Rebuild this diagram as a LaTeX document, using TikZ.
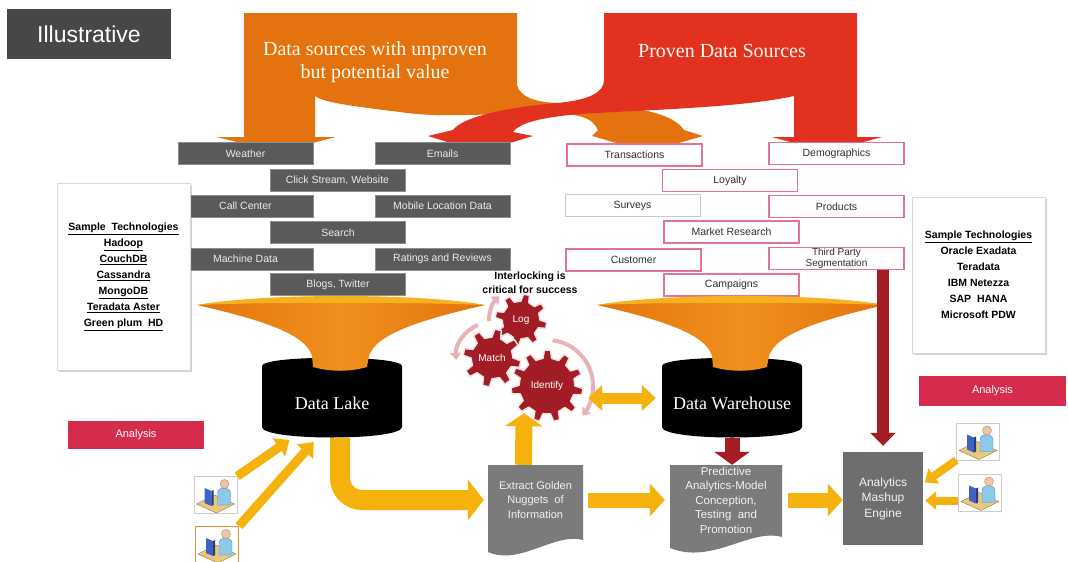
\documentclass[tikz,border=0pt]{standalone}
\usepackage{fontspec}
\setmainfont{Liberation Serif}
\setsansfont{Liberation Sans}
\usepackage{xcolor}
\usepackage{tikz}
\usetikzlibrary{arrows.meta,shadows}
\definecolor{ill}{HTML}{474747}
\definecolor{srcfill}{HTML}{5A5A5A}
\definecolor{srcedge}{HTML}{8E8E8E}
\definecolor{pinkedge}{HTML}{E2748F}
\definecolor{paleedge}{HTML}{C9C9C9}
\definecolor{ink}{HTML}{303030}
\definecolor{bigorange}{HTML}{E4720E}
\definecolor{bigred}{HTML}{E2321F}
\definecolor{amber}{HTML}{F6B20C}
\definecolor{deepred}{HTML}{A51D23}
\definecolor{cogred}{HTML}{A11C24}
\definecolor{cogrim}{HTML}{F3E3E3}
\definecolor{arcpink}{HTML}{E9B2B7}
\definecolor{docgray}{HTML}{7B7B7B}
\definecolor{mashgray}{HTML}{6E6E6E}
\definecolor{crimson}{HTML}{D52B4C}
\definecolor{lip}{HTML}{F6B21E}
\definecolor{funnel}{HTML}{E3740C}
\definecolor{funnelhi}{HTML}{F0901E}
\definecolor{desk}{HTML}{E9C77C}
\definecolor{screen}{HTML}{3D64C4}
\definecolor{shirt}{HTML}{8DC9EA}
\definecolor{skin}{HTML}{F2C6A2}
\tikzset{
  illus/.style={fill=ill,text=white,font=\sffamily\fontsize{23}{26}\selectfont,minimum width=164pt,minimum height=50pt},
  bigtext/.style={text=white!95!yellow,font=\fontsize{20}{23}\selectfont,align=center,inner sep=0pt},
  src/.style={draw=srcedge,fill=srcfill,text=white!92!black,font=\sffamily\fontsize{10.5}{11}\selectfont,align=center,minimum width=135pt,minimum height=22pt,inner sep=1pt},
  known/.style={src,draw=pinkedge,fill=white,text=ink,line width=1.2pt},
  techbox/.style={draw=black!15,fill=white,font=\sffamily\bfseries\fontsize{10.5}{16}\selectfont,align=center,drop shadow={opacity=.35,shadow xshift=1.5pt,shadow yshift=-1.5pt}},
  flag/.style={fill=crimson,text=white,font=\sffamily\fontsize{11}{13}\selectfont},
  tank/.style={text=white,font=\fontsize{18}{22}\selectfont,minimum width=140pt,minimum height=70pt},
  doc/.style={text=white!95!black,font=\sffamily\fontsize{11}{14.5}\selectfont,align=center,minimum height=70pt,inner sep=0pt},
  mash/.style={fill=mashgray,text=white!95!black,font=\sffamily\fontsize{12}{15.5}\selectfont,align=center,minimum width=80pt,minimum height=93pt},
  cogtext/.style={circle,text=white,font=\sffamily\fontsize{10}{12}\selectfont,inner sep=0pt},
  userbox/.style={draw=black!20,fill=white,minimum width=43pt,minimum height=37pt,inner sep=0pt},
  spin/.style={arcpink,line width=4pt,-{Triangle[length=7pt,width=11pt]}},
  thinarr/.style={amber,line width=9pt,-{Triangle[length=13pt,width=21pt]}},
  flatarr/.style={amber,line width=15pt,-{Triangle[length=15pt,width=32pt]}},
  bentarr/.style={amber,line width=20pt,rounded corners=22pt,-{Triangle[length=16pt,width=40pt]}},
  twoway/.style={amber,line width=11pt,{Triangle[length=14pt,width=25pt]}-{Triangle[length=14pt,width=25pt]}},
  droparr/.style={deepred,line width=15pt,-{Triangle[length=13pt,width=35pt]}},
  pics/cog/.style n args={3}{code={
    \filldraw[fill=cogred,draw=cogrim,line width=1.5pt,line join=round]
      (0:#2) \foreach \k in {1,...,#1}{
        -- ({(\k-1+0.12)*360/#1}:#3) -- ({(\k-1+0.42)*360/#1}:#3)
        -- ({(\k-1+0.54)*360/#1}:#2) -- ({\k*360/#1}:#2)} -- cycle;
  }},
  pics/clerk/.style={code={
    \fill[desk,draw=desk!60!black,line width=.4pt] (-19,9) -- (-1,0) -- (19,9) -- (1,18) -- cycle;
    \fill[screen] (-11,-7) -- (-4,-4) -- (-4,11) -- (-11,8) -- cycle;
    \fill[screen!60!black] (-4,-4) -- (-2,-5) -- (-2,10) -- (-4,11) -- cycle;
    \fill[shirt,draw=shirt!70!black,line width=.4pt] (2,10) -- (2,-2) .. controls (3,-9) and (14,-9) .. (15,-2) -- (15,10) -- cycle;
    \fill[skin,draw=skin!70!black,line width=.4pt] (9,-11) circle (4.5);
  }},
}

\begin{document}
\begin{tikzpicture}[x=1pt,y=-1pt]
\useasboundingbox[fill=white] (0,0) rectangle (1068,562);

% the two feeding arrows
\fill[bigorange] (244,13) -- (517,13) -- (517,85)
  .. controls (520,97) and (535,102) .. (557,103)
  .. controls (630,104) and (672,112) .. (684,130)
  -- (703,136) -- (648,152) -- (592,136) -- (598,130)
  .. controls (592,116) and (575,113) .. (540,113)
  .. controls (480,114) and (440,118) .. (400,112)
  .. controls (350,106) and (322,102) .. (315,96)
  -- (315,137) -- (336,137) -- (277,152) -- (217,137) -- (244,137) -- cycle;
\fill[bigred] (604,13) -- (857,13) -- (857,137) -- (882,137) -- (826,152) -- (772,137) -- (794,137) -- (794,96)
  .. controls (740,108) and (640,110) .. (580,114)
  .. controls (545,117) and (520,122) .. (513,132)
  -- (533,136) -- (480,152) -- (428,136) -- (453,130)
  .. controls (462,118) and (500,108) .. (557,103)
  .. controls (590,100) and (604,92) .. (604,80) -- cycle;
\node[illus] (illus) at (89,34) {Illustrative};
\node[bigtext] (unproven) at (375,62) {Data sources with unproven\\but potential value};
\node[bigtext] (proven) at (722,51) {Proven Data Sources};

\node[src] (weather) at (245.5,153.5) {Weather};
\node[src] (emails) at (442.5,153.5) {Emails};
\node[src] (click) at (337.5,180) {Click Stream, Website};
\node[src] (call) at (245.5,206) {Call Center};
\node[src] (mobile) at (442.5,206) {Mobile Location Data};
\node[src] (search) at (338,232.5) {Search};
\node[src] (machine) at (245.5,259) {Machine Data};
\node[src] (ratings) at (442.5,259) {Ratings and Reviews};
\node[src] (blogs) at (338,284.5) {Blogs, Twitter};

\node[known] (trans) at (634.5,155) {Transactions};
\node[known] (demo) at (836.5,153.5) {Demographics};
\node[known] (loyal) at (730,180.5) {Loyalty};
\node[known,draw=paleedge,line width=.8pt] (surv) at (632.5,205.5) {Surveys};
\node[known] (prod) at (836.5,206.5) {Products};
\node[known] (market) at (731.5,232) {Market Research};
\node[known] (cust) at (633.5,260) {Customer};
\node[known,font=\sffamily\fontsize{10}{11}\selectfont] (tps) at (836.5,258.5) {Third Party\\Segmentation};
\node[known] (camp) at (731.5,285) {Campaigns};

\node[techbox,minimum width=133pt,minimum height=187pt] (laketech) at (123.5,276.5) {\underline{Sample~~Technologies}\\\underline{Hadoop}\\\underline{CouchDB}\\\underline{Cassandra}\\\underline{MongoDB}\\\underline{Teradata Aster}\\\underline{Green plum~~HD}};
\node[techbox,minimum width=133pt,minimum height=156pt] (whtech) at (978.5,275) {\underline{Sample Technologies}\\Oracle Exadata\\Teradata\\IBM Netezza\\SAP~~HANA\\Microsoft PDW};

% store + funnel, once per side
\foreach \dx in {0,400}{
  \begin{scope}[xshift=\dx pt]
    \fill[black] (262,366) .. controls (262,355) and (402,355) .. (402,366) -- (402,427)
      .. controls (402,441) and (262,441) .. (262,427) -- cycle;
    \path[left color=funnel,right color=funnel,middle color=funnelhi]
      (197,305) .. controls (262,320) and (306,334) .. (312,356) -- (313,367)
      .. controls (330,372) and (350,372) .. (367,367) -- (369,356)
      .. controls (376,334) and (420,320) .. (485,305)
      .. controls (420,296) and (262,296) .. (197,305) -- cycle;
    \fill[lip] (197,305) .. controls (262,293) and (420,293) .. (485,305)
      .. controls (420,302) and (262,302) .. (197,305) -- cycle;
  \end{scope}
}
\node[tank] (lake) at (332,403) {Data Lake};
\node[tank] (wh) at (732,403) {Data Warehouse};

\pic at (521,320) {cog={8}{19}{26}};
\pic at (492,358) {cog={8}{21}{29}};
\pic at (547,386) {cog={11}{28}{36}};
\node[cogtext,minimum size=38pt] (log) at (521,320) {Log};
\node[cogtext,minimum size=42pt] (match) at (492,358) {Match};
\node[cogtext,minimum size=54pt] (identify) at (547,386) {Identify};
\draw[spin] ([shift={(178:32)}]log.center) arc[start angle=178,end angle=228,radius=32];
\draw[spin] ([shift={(-113:36)}]match.center) arc[start angle=-113,end angle=-183,radius=36];
\draw[spin] ([shift={(-83:46)}]identify.center) arc[start angle=-83,end angle=40,radius=46];
\node[font=\sffamily\bfseries\fontsize{10.5}{13.5}\selectfont,align=center] (lockup) at (530,282.5) {Interlocking is\\critical for success};

\fill[docgray] (488,465) -- (583,465) -- (583,540) .. controls (555,532) and (520,566) .. (488,552) -- cycle;
\fill[docgray] (670,465) -- (782,465) -- (782,537) .. controls (750,528) and (712,565) .. (670,548) -- cycle;
\node[doc,minimum width=95pt] (extract) at (535.5,500) {Extract Golden\\Nuggets~~of\\Information};
\node[doc,minimum width=112pt,font=\sffamily\fontsize{11.5}{14.5}\selectfont] (pred) at (726,500) {Predictive\\Analytics-Model\\Conception,\\Testing~~and\\Promotion};
\node[mash] (mash) at (883,498.5) {Analytics\\Mashup\\Engine};

\node[flag,minimum width=136pt,minimum height=28pt] (ana1) at (136,435) {Analysis};
\node[flag,minimum width=147pt,minimum height=30pt] (ana2) at (992.5,391) {Analysis};

\node[userbox] (u1) at (215.5,495) {};
\node[userbox,draw=bigorange!80,line width=1pt] (u2) at (217,545) {};
\node[userbox] (u3) at (978,441.5) {};
\node[userbox] (u4) at (980,492.5) {};
\foreach \u in {u1,u2,u3,u4}{\pic at (\u) {clerk};}

\draw[bentarr,shorten >=4pt] ([xshift=8pt]lake.south) |- (extract.west);
\draw[thinarr,shorten >=3pt] (u1.north east) -- ([xshift=-40pt]lake.south);
\draw[thinarr,shorten >=5pt] (u2.north east) -- ([xshift=-15pt]lake.south);
\draw[flatarr,line width=17pt,-{Triangle[length=13pt,width=37pt]}] ([xshift=-12pt]extract.north) -- ([xshift=-23pt]identify.south);
\draw[twoway,shorten <=14pt,shorten >=6pt] ([yshift=-12pt]identify.east) -- ([yshift=-12pt]identify.east -| wh.west);
\draw[flatarr,shorten <=5pt,shorten >=5pt] (extract.east) -- (pred.west);
\draw[flatarr,shorten <=6pt] (pred.east) -- (pred.east -| mash.west);
\draw[droparr] (wh.south) -- (wh.south |- pred.north);
\draw[droparr,line width=12pt,-{Triangle[length=13pt,width=25pt]},shorten >=6pt] (mash.north |- tps.south) -- (mash.north);
\draw[thinarr,line width=8pt,-{Triangle[length=11pt,width=18pt]},shorten >=2pt] (u3.south west) -- ([yshift=15pt]mash.east);
\draw[thinarr,line width=8pt,-{Triangle[length=11pt,width=18pt]},shorten >=2pt] ([yshift=-8pt]u4.west) -- ([yshift=-8pt]u4.west -| mash.east);
\end{tikzpicture}
\end{document}
